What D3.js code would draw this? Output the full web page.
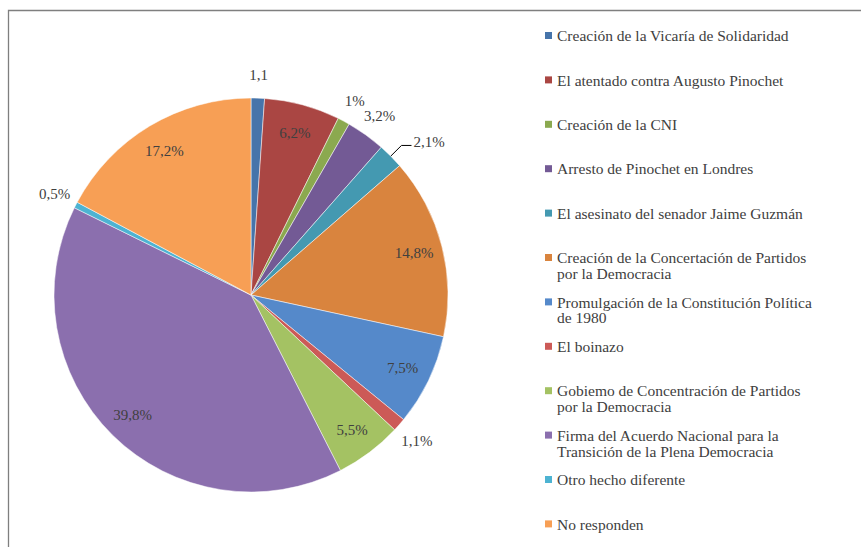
<!DOCTYPE html>
<html>
<head>
<meta charset="utf-8">
<script src="https://cdn.jsdelivr.net/npm/d3@7"></script>
<style>
  body { margin: 0; background: #fff; }
  svg { display: block; }
  svg text { font-family: "Liberation Serif", "DejaVu Serif", serif; }
</style>
</head>
<body>
<svg id="chart" width="861" height="547"></svg>
<script>
// "\n" marca el salto de línea de la leyenda original
const categories = [
  "Creación de la Vicaría de Solidaridad",
  "El atentado contra Augusto Pinochet",
  "Creación de la CNI",
  "Arresto de Pinochet en Londres",
  "El asesinato del senador Jaime Guzmán",
  "Creación de la Concertación de Partidos\npor la Democracia",
  "Promulgación de la Constitución Política\nde 1980",
  "El boinazo",
  "Gobiemo de Concentración de Partidos\npor la Democracia",
  "Firma del Acuerdo Nacional para la\nTransición de la Plena Democracia",
  "Otro hecho diferente",
  "No responden"
];
const values = [1.1, 6.2, 1, 3.2, 2.1, 14.8, 7.5, 1.1, 5.5, 39.8, 0.5, 17.2];
const valueLabels = ["1,1", "6,2%", "1%", "3,2%", "2,1%", "14,8%", "7,5%", "1,1%", "5,5%", "39,8%", "0,5%", "17,2%"];
const colors = ["#4674AA", "#AA4643", "#8BA94F", "#735A95", "#4499B1", "#D9843E",
                "#5589CA", "#CC5A57", "#A4C263", "#8B6FAE", "#4DB3D2", "#F79F55"];

const svg = d3.select("#chart");
const cx = 251, cy = 295, R = 197;

// marco
svg.append("path")
  .attr("d", "M8.5,560 L8.5,10.5 L870,10.5")
  .attr("fill", "none")
  .attr("stroke", "#7f7f7f")
  .attr("stroke-width", 1.3);

const color = d3.scaleOrdinal().domain(categories).range(colors);

const pie = d3.pie().sort(null).value(d => d.value);
const data = categories.map((c, i) => ({ name: c, value: values[i], label: valueLabels[i] }));
const arcs = pie(data);

const arc = d3.arc().innerRadius(0).outerRadius(R);
const inArc = d3.arc().innerRadius(R * 0.855).outerRadius(R * 0.855);
const outArc = d3.arc().innerRadius(R * 1.12).outerRadius(R * 1.12);
const elbowArc = d3.arc().innerRadius(R * 1.077).outerRadius(R * 1.077);
const edgeArc = d3.arc().innerRadius(R).outerRadius(R);

const g = svg.append("g").attr("transform", `translate(${cx},${cy})`);

g.selectAll("path.slice")
  .data(arcs)
  .enter()
  .append("path")
  .attr("class", "slice")
  .attr("d", arc)
  .attr("fill", d => color(d.data.name))
  .attr("stroke", "#fff")
  .attr("stroke-width", 0.5);

// etiquetas
arcs.forEach(d => {
  const small = d.data.value < 5;
  if (d.data.label === "2,1%") {
    // etiqueta con línea guía
    const p0 = edgeArc.centroid(d);
    const p1 = elbowArc.centroid(d);
    const p2 = [p1[0] + 10, p1[1]];
    g.append("polyline")
      .attr("points", [p0, p1, p2].map(p => p.join(",")).join(" "))
      .attr("fill", "none")
      .attr("stroke", "#000")
      .attr("stroke-width", 1);
    g.append("text")
      .attr("x", p2[0] + 2)
      .attr("y", p2[1])
      .attr("dy", "0.1em")
      .attr("text-anchor", "start")
      .style("font-size", "15px")
      .style("fill", "#404040")
      .text(d.data.label);
    return;
  }
  const p = small ? outArc.centroid(d) : inArc.centroid(d);
  g.append("text")
    .attr("x", p[0])
    .attr("y", p[1])
    .attr("dy", "0.35em")
    .attr("text-anchor", "middle")
    .style("font-size", "15px")
    .style("fill", "#404040")
    .text(d.data.label);
});

// leyenda
const legend = svg.append("g").attr("transform", "translate(545,0)");

data.forEach((d, i) => {
  const y = 36 + i * 44.4;
  const item = legend.append("g").attr("transform", `translate(0,${y})`);
  item.append("rect")
    .attr("x", 0)
    .attr("y", -4)
    .attr("width", 7)
    .attr("height", 7)
    .attr("fill", color(d.name));
  const text = item.append("text")
    .attr("x", 12)
    .attr("y", 0)
    .attr("dy", "0.33em")
    .style("font-size", "15.5px")
    .style("fill", "#404040");
  d.name.split("\n").forEach((ln, k) => {
    text.append("tspan").attr("x", 12).attr("y", k * 21).text(ln);
  });
});
</script>
</body>
</html>
